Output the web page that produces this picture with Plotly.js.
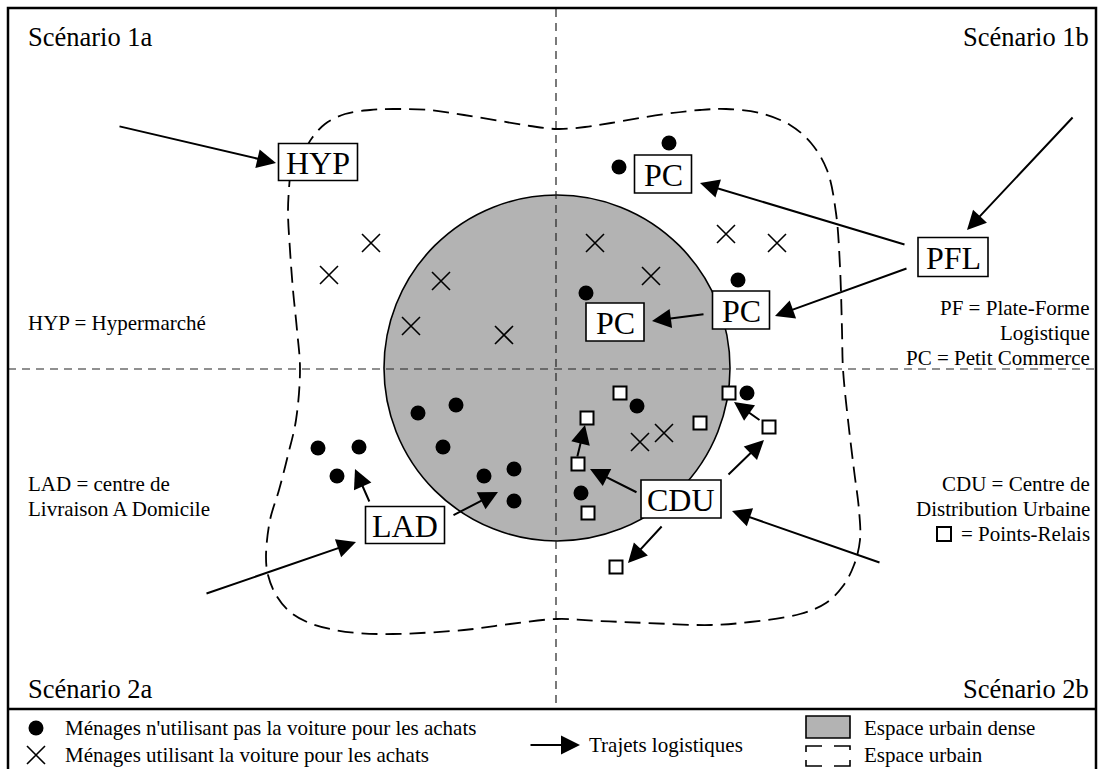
<!DOCTYPE html>
<html>
<head>
<meta charset="utf-8">
<script src="https://cdn.plot.ly/plotly-3.0.1.min.js"></script>
<style>html,body{margin:0;padding:0;background:#fff;}#chart{width:1098px;height:769px;}</style>
</head>
<body>
<div id="chart"></div>
<script>
// ---- Data (diagram coordinates, 1 unit = 1 px of the 1098x769 canvas) ----
// Households not using the car (filled dots)
const dotX = [669, 619, 738, 586, 318, 359, 337, 418, 456, 443, 484, 514, 514, 637, 747, 581];
const dotY = [143, 167, 280, 293, 448, 447, 476, 413, 405, 447, 476, 469, 501, 406, 393, 493];
// Households using the car (crosses)
const crossX = [371, 329, 441, 411, 504, 595, 651, 726, 777, 640, 664];
const crossY = [243, 275, 281, 326, 335, 243, 276, 234, 243, 442, 433];
// Points-Relais (open squares)
const relayX = [620, 587, 578, 588, 700, 729, 769, 616];
const relayY = [393, 418, 464, 513, 423, 393, 427, 567];
// Logistic nodes (boxes)
const nodeLabel = ["HYP", "PC", "PFL", "PC", "PC", "LAD", "CDU"];
const nodeX = [318, 663, 953, 741, 615, 405, 681];
const nodeY = [162, 174, 257, 310, 322, 525, 499];
const nodeW = [79, 57, 70, 57, 58, 79, 80];
const nodeH = [37, 38, 39, 38, 38, 37, 38];
// Logistic trips (arrows): tail -> head
const tripTailX = [118, 1074, 906, 908, 705, 370, 452, 205, 638, 577, 727, 761, 663, 881];
const tripTailY = [126, 116, 245, 268, 314, 503, 516, 594, 493, 458, 476, 421, 525, 563];
const tripHeadX = [276, 967, 700, 775, 652, 355, 498, 356, 590, 585, 764, 734, 628, 732];
const tripHeadY = [163, 230, 183, 316, 321, 469, 492, 542, 469, 425, 440, 402, 563, 511];
// Urban space outline (dashed closed curve)
const outlineX = [305, 312, 325, 345, 370, 393, 429, 464, 500, 530, 557, 585, 611, 665, 700, 726, 760, 790, 811, 827, 836, 840, 842, 843, 848, 854, 859, 860, 854, 843, 826, 800, 750, 711, 647, 600, 557, 510, 464, 393, 357, 330, 307, 289, 276, 268, 266, 270, 279, 288, 296, 300, 297, 293, 290, 288, 290];
const outlineY = [150, 138, 124, 114, 110, 109, 110, 115, 121, 126, 129, 127, 123, 114, 110, 109, 113, 125, 143, 170, 213, 267, 330, 369, 420, 470, 510, 540, 565, 586, 603, 614, 622, 625, 623, 621, 619, 624, 630, 634, 633, 629, 622, 611, 595, 575, 557, 520, 490, 455, 420, 369, 330, 290, 250, 210, 176];
// Dense urban space (circle)
const denseCenter = [557, 368];
const denseRadius = 173;
// Texts
const scenarioLabels = ["Scénario 1a", "Scénario 1b", "Scénario 2a", "Scénario 2b"];
const leftDefs = ["HYP = Hypermarché", "LAD = centre de", "Livraison A Domicile"];
const rightDefs = ["PF = Plate-Forme", "Logistique", "PC = Petit Commerce", "CDU = Centre de", "Distribution Urbaine", "= Points-Relais"];
const legendLabels = ["Ménages n'utilisant pas la voiture pour les achats", "Ménages utilisant la voiture pour les achats", "Trajets logistiques", "Espace urbain dense", "Espace urbain"];

// ---- Drawing ----
const FONT = "Liberation Serif, Times New Roman, serif";
const traces = [];
traces.push({x: outlineX, y: outlineY, mode: 'lines', type: 'scatter', hoverinfo: 'skip',
  line: {color: 'black', width: 1.8, dash: '16px,8px', shape: 'spline', smoothing: 1.0}});
traces.push({x: dotX, y: dotY, mode: 'markers', type: 'scatter', hoverinfo: 'skip',
  marker: {symbol: 'circle', size: 15, color: 'black'}});
traces.push({x: crossX, y: crossY, mode: 'markers', type: 'scatter', hoverinfo: 'skip',
  marker: {symbol: 'x-thin', size: 18, line: {color: 'black', width: 1.6}}});
traces.push({x: relayX, y: relayY, mode: 'markers', type: 'scatter', hoverinfo: 'skip',
  marker: {symbol: 'square', size: 13, color: 'white', line: {color: 'black', width: 2}}});
// legend symbols
traces.push({x: [36], y: [728], mode: 'markers', type: 'scatter', hoverinfo: 'skip',
  marker: {symbol: 'circle', size: 15, color: 'black'}});
traces.push({x: [36], y: [755], mode: 'markers', type: 'scatter', hoverinfo: 'skip',
  marker: {symbol: 'x-thin', size: 18, line: {color: 'black', width: 1.6}}});
traces.push({x: [944], y: [534], mode: 'markers', type: 'scatter', hoverinfo: 'skip',
  marker: {symbol: 'square', size: 14, color: 'white', line: {color: 'black', width: 2}}});

const shapes = [];
// dense circle
shapes.push({type: 'circle', xref: 'x', yref: 'y', layer: 'below',
  x0: denseCenter[0] - denseRadius, x1: denseCenter[0] + denseRadius,
  y0: denseCenter[1] - denseRadius, y1: denseCenter[1] + denseRadius,
  fillcolor: '#b3b3b3', line: {color: 'black', width: 1.6}});
// quadrant lines
shapes.push({type: 'line', xref: 'x', yref: 'y', layer: 'below', x0: 556, x1: 556, y0: 9, y1: 709,
  line: {color: '#222', width: 1.2, dash: '8px,6px'}});
shapes.push({type: 'line', xref: 'x', yref: 'y', layer: 'below', x0: 8, x1: 1096, y0: 369, y1: 369,
  line: {color: '#222', width: 1.2, dash: '8px,6px'}});
// frame
shapes.push({type: 'rect', xref: 'x', yref: 'y', layer: 'above', x0: 8, x1: 1096, y0: 8, y1: 775,
  line: {color: 'black', width: 2.5}});
shapes.push({type: 'line', xref: 'x', yref: 'y', layer: 'above', x0: 8, x1: 1096, y0: 709, y1: 709,
  line: {color: 'black', width: 2.5}});
// node boxes
for (let i = 0; i < nodeLabel.length; i++) {
  shapes.push({type: 'rect', xref: 'x', yref: 'y', layer: 'above',
    x0: nodeX[i] - nodeW[i] / 2, x1: nodeX[i] + nodeW[i] / 2,
    y0: nodeY[i] - nodeH[i] / 2, y1: nodeY[i] + nodeH[i] / 2,
    fillcolor: 'white', line: {color: 'black', width: 1.6}});
}
// legend rectangles
shapes.push({type: 'rect', xref: 'x', yref: 'y', layer: 'above', x0: 806, x1: 850, y0: 716, y1: 738,
  fillcolor: '#b3b3b3', line: {color: 'black', width: 1.6}});
shapes.push({type: 'path', xref: 'x', yref: 'y', layer: 'above',
  path: 'M806,752 V746 H822 M834,746 H850 V750 M850,760 V766 H834 M822,766 H806 V760',
  line: {color: 'black', width: 1.6}});

const ann = [];
function txt(x, y, text, size, xanchor) {
  ann.push({x: x, y: y, xref: 'x', yref: 'y', text: text, showarrow: false,
    xanchor: xanchor, yanchor: 'middle', align: xanchor === 'center' ? 'center' : xanchor,
    font: {family: FONT, size: size, color: 'black'}});
}
txt(26, 37, scenarioLabels[0], 26.5, 'left');
txt(1091, 37, scenarioLabels[1], 26.5, 'right');
txt(26, 689, scenarioLabels[2], 26.5, 'left');
txt(1091, 689, scenarioLabels[3], 26.5, 'right');
txt(26, 323, leftDefs[0], 21, 'left');
txt(26, 484, leftDefs[1], 21, 'left');
txt(26, 509, leftDefs[2], 21, 'left');
const rightY = [308, 333, 358, 484, 509, 534];
for (let i = 0; i < rightDefs.length; i++) txt(1092, rightY[i], rightDefs[i], 21, 'right');
for (let i = 0; i < nodeLabel.length; i++) {
  txt(nodeX[i], nodeY[i] + 1, nodeLabel[i], 32, 'center');
}
// legend texts
txt(63, 728, legendLabels[0], 21, 'left');
txt(63, 755, legendLabels[1], 21, 'left');
txt(587, 745, legendLabels[2], 21, 'left');
txt(862, 728, legendLabels[3], 21, 'left');
txt(862, 755, legendLabels[4], 21, 'left');
// arrows
function arrow(tx, ty, hx, hy) {
  ann.push({x: hx, y: hy, ax: tx, ay: ty, xref: 'x', yref: 'y', axref: 'x', ayref: 'y',
    text: '', showarrow: true, arrowhead: 2, arrowsize: 1.9, arrowwidth: 2,
    arrowcolor: 'black', standoff: 0, startstandoff: 0});
}
for (let i = 0; i < tripTailX.length; i++) {
  arrow(tripTailX[i], tripTailY[i], tripHeadX[i], tripHeadY[i]);
}
arrow(529, 745, 580, 745);

const layout = {
  width: 1098, height: 769,
  margin: {l: 0, r: 0, t: 0, b: 0},
  paper_bgcolor: 'white', plot_bgcolor: 'white',
  showlegend: false,
  xaxis: {range: [0, 1098], visible: false, fixedrange: true},
  yaxis: {range: [769, 0], visible: false, fixedrange: true},
  shapes: shapes,
  annotations: ann
};
Plotly.newPlot('chart', traces, layout, {staticPlot: true, displayModeBar: false});
</script>
</body>
</html>
